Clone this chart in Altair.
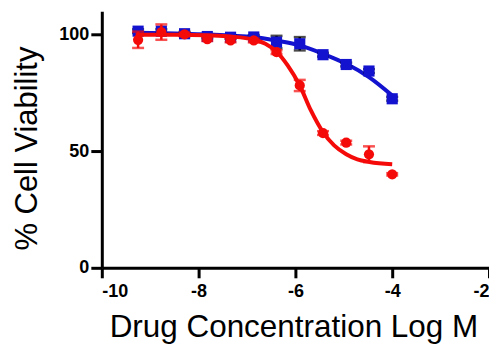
import altair as alt
import pandas as pd

# Measured data (log M concentrations)
log_conc = [-9.25, -8.77, -8.29, -7.82, -7.34, -6.86, -6.39, -5.91, -5.43, -4.95, -4.48, -4.0]
red_mean = [97.8, 101.1, 100.1, 98.1, 97.5, 97.5, 92.5, 78.2, 57.8, 53.7, 48.7, 40.1]
red_err = [3.5, 3.3, 0.8, 0.8, 0.8, 0.8, 0.8, 2.4, 0.8, 0.8, 3.4, 0.5]
blue_mean = [101.5, 101.5, 100.4, 99.2, 98.9, 99.0, 96.8, 96.1, 91.4, 87.2, 84.4, 72.5]
blue_err = [0.8, 0.8, 0.8, 0.8, 0.8, 0.8, 2.7, 2.85, 0.8, 0.8, 0.8, 0.8]

# Fitted curves
red_fit_x = [-9.3, -8.5, -7.8, -7.34, -6.86, -6.62, -6.38, -6.16, -5.91, -5.68, -5.43, -5.2, -4.95, -4.72, -4.47, -4.0]
red_fit_y = [100.0, 100.0, 99.7, 99.2, 97.8, 96.1, 92.5, 86.8, 78.2, 67.5, 58.2, 52.5, 48.7, 46.5, 45.4, 44.4]
blue_fit_x = [-9.3, -8.3, -7.34, -6.86, -6.38, -5.91, -5.43, -4.95, -4.48, -4.0]
blue_fit_y = [100.8, 100.4, 99.6, 99.0, 97.4, 95.4, 91.8, 87.5, 81.8, 73.9]

RED = "#f50a0a"
BLUE = "#1212cf"
FONT = "Liberation Sans"

pts = pd.DataFrame({
    "x": log_conc * 2,
    "y": red_mean + blue_mean,
    "err": red_err + blue_err,
    "s": ["red"] * len(log_conc) + ["blue"] * len(log_conc),
})
pts["lo"] = pts["y"] - pts["err"]
pts["hi"] = pts["y"] + pts["err"]
red_pts = pts[pts.s == "red"]
blue_pts = pts[pts.s == "blue"]
red_fit = pd.DataFrame({"x": red_fit_x, "y": red_fit_y})
blue_fit = pd.DataFrame({"x": blue_fit_x, "y": blue_fit_y})

xs = alt.Scale(domain=[-10, -2], nice=False, zero=False)
ys = alt.Scale(domain=[0, 110], nice=False, zero=False)

x_axis = alt.Axis(
    values=[-10, -8, -6, -4, -2], labelExpr="'' + datum.value", grid=False,
    title="Drug Concentration Log M", titleFont=FONT, titleFontSize=31.5, titleFontWeight="normal",
    titleColor="black", titleX=192, titleY=69, titleBaseline="alphabetic", titleAlign="center",
    labelFont=FONT, labelFontSize=18, labelFontWeight="bold", labelColor="black", labelPadding=5,
    tickSize=10, tickWidth=3, tickColor="black", domainWidth=3, domainColor="black",
)
y_axis = alt.Axis(
    values=[0, 50, 100], grid=False,
    title="% Cell Viability", titleFont=FONT, titleFontSize=31, titleFontWeight="normal",
    titleColor="black", titleX=-65, titleY=137, titleBaseline="alphabetic", titleAlign="center",
    titleAngle=270,
    labelFont=FONT, labelFontSize=18, labelFontWeight="bold", labelColor="black", labelPadding=2,
    tickSize=11, tickWidth=3, tickColor="black", domainWidth=3, domainColor="black",
)

X = alt.X("x:Q", scale=xs, axis=x_axis)
Y = alt.Y("y:Q", scale=ys, axis=y_axis)


def errbars(df, color):
    rule = alt.Chart(df).mark_rule(color=color, strokeWidth=2.5).encode(
        x=X, y=alt.Y("lo:Q", scale=ys, axis=y_axis), y2="hi:Q")
    caps_hi = alt.Chart(df).mark_tick(color=color, orient="horizontal", size=12, thickness=2.5).encode(
        x=X, y=alt.Y("hi:Q", scale=ys, axis=y_axis))
    caps_lo = alt.Chart(df).mark_tick(color=color, orient="horizontal", size=12, thickness=2.5).encode(
        x=X, y=alt.Y("lo:Q", scale=ys, axis=y_axis))
    return [rule, caps_hi, caps_lo]


blue_line = alt.Chart(blue_fit).mark_line(color=BLUE, strokeWidth=4, interpolate="monotone").encode(x=X, y=Y)
blue_marks = alt.Chart(blue_pts).mark_point(shape="square", filled=True, size=125, color=BLUE, opacity=1).encode(x=X, y=Y)
red_line = alt.Chart(red_fit).mark_line(color=RED, strokeWidth=4, interpolate="monotone").encode(x=X, y=Y)
red_marks = alt.Chart(red_pts).mark_point(shape="circle", filled=True, size=105, color=RED, opacity=1).encode(x=X, y=Y)

layers = [blue_line] + errbars(blue_pts, "black") + [blue_marks, red_line] + errbars(red_pts, RED) + [red_marks]

chart = alt.layer(*layers).properties(
    width=388, height=257,
    autosize=alt.AutoSizeParams(type="none"),
    padding={"left": 94, "top": 3, "right": 0, "bottom": 76},
    background="white",
).configure_view(stroke=None)

chart.save("out.html", embed_options={"renderer": "svg", "actions": False})
